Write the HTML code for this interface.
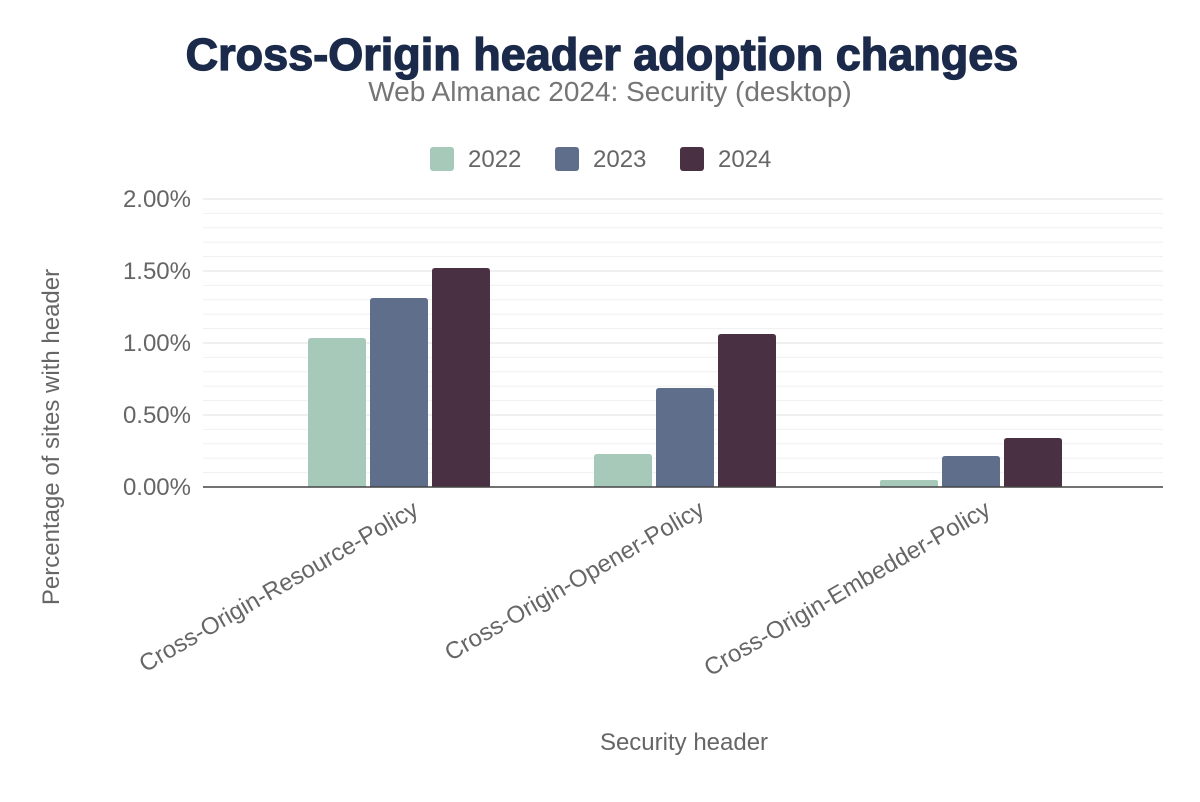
<!DOCTYPE html>
<html><head><meta charset="utf-8"><style>
html,body{margin:0;padding:0;background:#fff;}
svg{display:block;font-family:"Liberation Sans",Arial,sans-serif;}
</style></head><body>
<svg width="1200" height="802" viewBox="0 0 1200 802" xmlns="http://www.w3.org/2000/svg">
<rect width="1200" height="802" fill="#fff"/>
<text x="602" y="70" text-anchor="middle" font-size="45" font-weight="900" fill="#1b2a4a" stroke="#1b2a4a" stroke-width="1.3">Cross-Origin header adoption changes</text>
<text x="610" y="101" text-anchor="middle" font-size="28" fill="#757575">Web Almanac 2024: Security (desktop)</text>
<g font-size="24" fill="#666">
<rect x="430" y="147" width="24" height="24" rx="3" fill="#a6c9b9"/><text x="468" y="167">2022</text>
<rect x="555" y="147" width="24" height="24" rx="3" fill="#5f6f8b"/><text x="593" y="167">2023</text>
<rect x="680" y="147" width="24" height="24" rx="3" fill="#4a3043"/><text x="718" y="167">2024</text>
</g>
<g stroke="#f0f0f0" stroke-width="1">
<line x1="203" x2="1163" y1="213.4" y2="213.4"/><line x1="203" x2="1163" y1="227.8" y2="227.8"/><line x1="203" x2="1163" y1="242.2" y2="242.2"/><line x1="203" x2="1163" y1="256.6" y2="256.6"/>
<line x1="203" x2="1163" y1="285.4" y2="285.4"/><line x1="203" x2="1163" y1="299.8" y2="299.8"/><line x1="203" x2="1163" y1="314.2" y2="314.2"/><line x1="203" x2="1163" y1="328.6" y2="328.6"/>
<line x1="203" x2="1163" y1="357.4" y2="357.4"/><line x1="203" x2="1163" y1="371.8" y2="371.8"/><line x1="203" x2="1163" y1="386.2" y2="386.2"/><line x1="203" x2="1163" y1="400.6" y2="400.6"/>
<line x1="203" x2="1163" y1="429.4" y2="429.4"/><line x1="203" x2="1163" y1="443.8" y2="443.8"/><line x1="203" x2="1163" y1="458.2" y2="458.2"/><line x1="203" x2="1163" y1="472.6" y2="472.6"/>
</g>
<g stroke="#e6e6e6" stroke-width="1.2">
<line x1="203" x2="1163" y1="199" y2="199"/><line x1="203" x2="1163" y1="271" y2="271"/><line x1="203" x2="1163" y1="343" y2="343"/><line x1="203" x2="1163" y1="415" y2="415"/>
</g>
<g font-size="24" fill="#666" text-anchor="end">
<text x="191" y="207">2.00%</text><text x="191" y="279">1.50%</text><text x="191" y="351">1.00%</text><text x="191" y="423">0.50%</text><text x="191" y="495">0.00%</text>
</g>
<g>
<path d="M308,487V341q0-3 3-3h52q3 0 3 3V487Z" fill="#a6c9b9"/>
<path d="M370,487V301q0-3 3-3h52q3 0 3 3V487Z" fill="#5f6f8b"/>
<path d="M432,487V271q0-3 3-3h52q3 0 3 3V487Z" fill="#4a3043"/>
<path d="M594,487V457q0-3 3-3h52q3 0 3 3V487Z" fill="#a6c9b9"/>
<path d="M656,487V391q0-3 3-3h52q3 0 3 3V487Z" fill="#5f6f8b"/>
<path d="M718,487V337q0-3 3-3h52q3 0 3 3V487Z" fill="#4a3043"/>
<path d="M880,487V482q0-2 2-2h54q2 0 2 2V487Z" fill="#a6c9b9"/>
<path d="M942,487V459q0-3 3-3h52q3 0 3 3V487Z" fill="#5f6f8b"/>
<path d="M1004,487V441q0-3 3-3h52q3 0 3 3V487Z" fill="#4a3043"/>
</g>
<line x1="203" x2="1163" y1="487" y2="487" stroke="#444" stroke-width="1.5"/>
<g font-size="24" fill="#666" text-anchor="end">
<text transform="translate(420,514) rotate(-30)">Cross-Origin-Resource-Policy</text>
<text transform="translate(706,514) rotate(-30)">Cross-Origin-Opener-Policy</text>
<text transform="translate(992,514) rotate(-30)">Cross-Origin-Embedder-Policy</text>
</g>
<text x="684" y="750" text-anchor="middle" font-size="24" fill="#666">Security header</text>
<text transform="translate(59,437) rotate(-90)" text-anchor="middle" font-size="24" fill="#666">Percentage of sites with header</text>
</svg>
</body></html>
